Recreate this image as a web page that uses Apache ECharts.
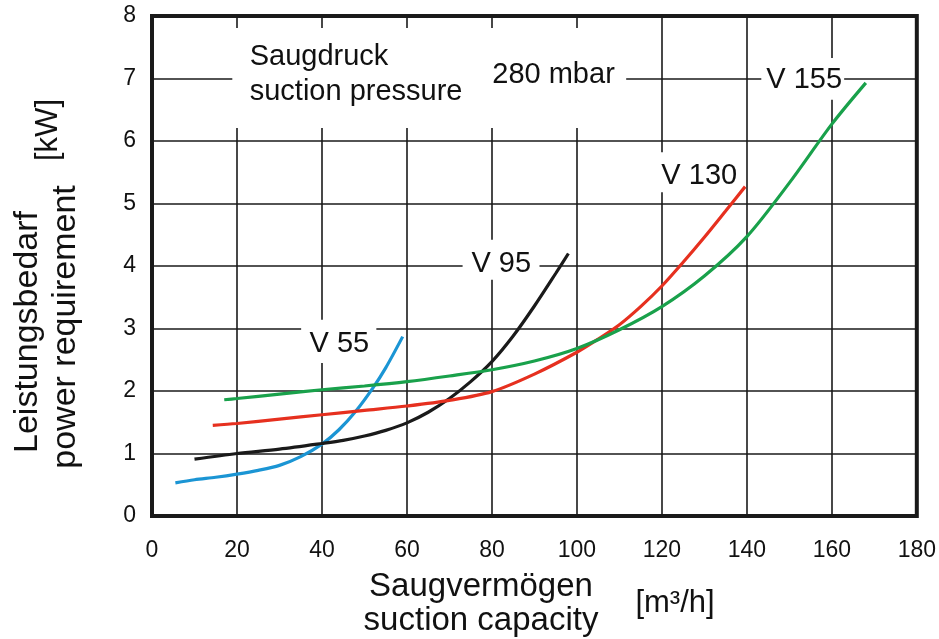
<!DOCTYPE html>
<html>
<head>
<meta charset="utf-8">
<script src="https://cdn.jsdelivr.net/npm/echarts@6/dist/echarts.min.js"></script>
<style>
html,body{margin:0;padding:0;background:#fff;}
#chart{width:939px;height:639px;}
</style>
</head>
<body>
<div id="chart"></div>
<script>
// ---- data (suction capacity m³/h, power kW) ----
const xTicks = [0, 20, 40, 60, 80, 100, 120, 140, 160, 180];
const yTicks = [0, 1, 2, 3, 4, 5, 6, 7, 8];

const v55 = [[5.5,0.53],[10,0.58],[15,0.62],[20,0.67],[25,0.73],[30,0.81],[35,0.95],[40,1.15],[44,1.38],[48,1.68],[52,2.05],[55,2.37],[59,2.87]];
const v95 = [[10,0.91],[20,1.0],[30,1.07],[40,1.16],[45,1.21],[50,1.28],[55,1.37],[60,1.49],[65,1.66],[70,1.88],[75,2.15],[80,2.47],[85,2.88],[90,3.36],[95,3.88],[98,4.2]];
const v130 = [[14.3,1.45],[20,1.48],[30,1.55],[40,1.62],[50,1.69],[60,1.76],[70,1.85],[80,1.99],[90,2.27],[100,2.62],[105,2.83],[110,3.06],[115,3.35],[120,3.68],[125,4.06],[130,4.46],[135,4.88],[139.6,5.27]];
const v155 = [[17,1.86],[20,1.88],[30,1.95],[40,2.02],[50,2.08],[60,2.15],[70,2.24],[80,2.34],[90,2.48],[100,2.68],[110,2.98],[120,3.35],[130,3.84],[140,4.47],[150,5.33],[160,6.27],[168,6.93]];

const seriesNames = ['V 55', 'V 95', 'V 130', 'V 155'];
const seriesColors = ['#1b95d4', '#1a1a1a', '#e6301f', '#19a14b'];

// annotation labels (text, anchor in data coords)
const labelTexts = ['Saugdruck\nsuction pressure', '280 mbar', 'V 155', 'V 130', 'V 95', 'V 55'];
const labelAnchors = [[23.0,7.06,'left'],[94.5,7.06,'center'],[153.5,6.98,'center'],[128.8,5.44,'center'],[82.2,4.03,'center'],[44.1,2.75,'center']];
// white boxes behind labels [x1,y1,x2,y2]
const labelBoxes = [[18.9,7.81,111.6,6.21],[143.4,7.33,162.9,6.66],[118.2,5.82,139.4,5.18],[73.1,4.42,91.2,3.78],[35.1,3.14,52.8,2.45]];

const txt = '#111111';
const FONT = 'Liberation Sans, Arial, sans-serif';

const chart = echarts.init(document.getElementById('chart'));

const lineSeries = [v55, v95, v130, v155].map((d, i) => ({
  name: seriesNames[i],
  type: 'line',
  data: d,
  smooth: 0.3,
  symbol: 'none',
  z: 5,
  lineStyle: { color: seriesColors[i], width: 3.2 },
  silent: true
}));

const option = {
  animation: false,
  backgroundColor: '#fff',
  grid: { left: 152, right: 22, top: 16, bottom: 123, show: true, borderColor: '#1a1a1a', borderWidth: 4, backgroundColor: 'transparent' },
  xAxis: {
    type: 'value', min: xTicks[0], max: xTicks[xTicks.length-1], interval: 20,
    axisLine: { show: false }, axisTick: { show: false },
    axisLabel: { fontSize: 23, color: txt, margin: 23, fontFamily: FONT },
    splitLine: { show: true, lineStyle: { color: '#1a1a1a', width: 1.6 } }
  },
  yAxis: {
    type: 'value', min: yTicks[0], max: yTicks[yTicks.length-1], interval: 1,
    axisLine: { show: false }, axisTick: { show: false },
    axisLabel: { fontSize: 23, color: txt, margin: 16, fontFamily: FONT },
    splitLine: { show: true, lineStyle: { color: '#1a1a1a', width: 1.6 } }
  },
  series: [
    {
      type: 'line', data: [], z: 2, silent: true,
      markArea: {
        silent: true,
        itemStyle: { color: '#ffffff', opacity: 1, borderWidth: 0 },
        label: { show: false },
        data: labelBoxes.map(b => [{ coord: [b[0], b[1]] }, { coord: [b[2], b[3]] }])
      }
    },
    ...lineSeries,
    {
      type: 'scatter', z: 6, silent: true, symbolSize: 0,
      itemStyle: { opacity: 1 },
      data: labelAnchors.map((a, i) => ({
        value: [a[0], a[1]], name: labelTexts[i],
        label: { align: a[2] }
      })),
      label: {
        show: true, position: 'inside', formatter: p => p.name,
        fontSize: 29, lineHeight: 35, color: txt, opacity: 1, fontFamily: FONT
      }
    }
  ],
  graphic: [
    { type: 'text', x: 481, y: 604, style: { text: 'Saugvermögen\nsuction capacity', font: '33px ' + FONT, fill: txt, textAlign: 'center', textVerticalAlign: 'middle', lineHeight: 34 } },
    { type: 'text', x: 675, y: 603, style: { text: '[m³/h]', font: '31px ' + FONT, fill: txt, textAlign: 'center', textVerticalAlign: 'middle' } },
    { type: 'text', x: 28, y: 332, rotation: Math.PI/2, style: { text: 'Leistungsbedarf', font: '34px ' + FONT, fill: txt, textAlign: 'center', textVerticalAlign: 'middle' } },
    { type: 'text', x: 66, y: 327, rotation: Math.PI/2, style: { text: 'power requirement', font: '34px ' + FONT, fill: txt, textAlign: 'center', textVerticalAlign: 'middle' } },
    { type: 'text', x: 48, y: 130, rotation: Math.PI/2, style: { text: '[kW]', font: '31px ' + FONT, fill: txt, textAlign: 'center', textVerticalAlign: 'middle' } }
  ]
};
chart.setOption(option);
</script>
</body>
</html>
